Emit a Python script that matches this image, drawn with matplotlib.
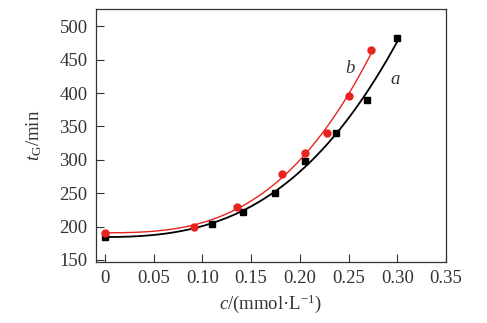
import numpy as np
import matplotlib
matplotlib.use("Agg")
import matplotlib.pyplot as plt

# Data
conc_a = [0.0, 0.110, 0.142, 0.174, 0.205, 0.237, 0.269, 0.300]
tG_a = [185, 204, 222, 250, 299, 340, 390, 483]
conc_b = [0.0, 0.091, 0.136, 0.182, 0.205, 0.228, 0.250, 0.273]
tG_b = [190, 200, 230, 279, 310, 340, 396, 464]
xticks = [0, 0.05, 0.10, 0.15, 0.20, 0.25, 0.30, 0.35]
xticklabels = ["0", "0.05", "0.10", "0.15", "0.20", "0.25", "0.30", "0.35"]
yticks = [150, 200, 250, 300, 350, 400, 450, 500]

plt.rcParams['font.family'] = ['Liberation Serif', 'DejaVu Serif']
plt.rcParams['mathtext.fontset'] = 'custom'
plt.rcParams['mathtext.rm'] = 'Liberation Serif'
plt.rcParams['mathtext.it'] = 'Liberation Serif:italic'

fig = plt.figure(figsize=(4.87, 3.23), dpi=100)
ax = fig.add_axes([0.197, 0.189, 0.719, 0.783])

def fit_curve(x, y, xmax):
    x = np.asarray(x, float); y = np.asarray(y, float)
    A = np.vstack([np.ones_like(x), x**2, x**3]).T
    coef, *_ = np.linalg.lstsq(A, y, rcond=None)
    xs = np.linspace(0, xmax, 200)
    return xs, coef[0] + coef[1]*xs**2 + coef[2]*xs**3

xs, ys = fit_curve(conc_a, tG_a, conc_a[-1])
ax.plot(xs, ys, color='black', lw=1.3, zorder=2)
xs, ys = fit_curve(conc_b, tG_b, conc_b[-1])
ax.plot(xs, ys, color='#e8231e', lw=1.0, zorder=2)
ax.plot(conc_a, tG_a, 's', color='black', ms=4.5, zorder=3)
ax.plot(conc_b, tG_b, 'o', color='#e8231e', ms=5, zorder=3)

ax.text(0.2515, 437, 'b', fontsize=13.5, style='italic', color='#333333', ha='center', va='center')
ax.text(0.2977, 420, 'a', fontsize=13.5, style='italic', color='#333333', ha='center', va='center')

ax.set_xlim(-0.0092, 0.35)
ax.set_ylim(147, 526)
ax.set_xticks(xticks)
ax.set_xticklabels(xticklabels)
ax.set_yticks(yticks)
ax.tick_params(direction='in', length=6, width=0.8, labelsize=13.5, colors='#333333',
               top=False, right=False, pad=6)
for s in ax.spines.values():
    s.set_color('#333333'); s.set_linewidth(0.9)

ax.set_xlabel(r'$\mathit{c}$/(mmol·L$^{-1}$)', fontsize=13.5, color='#333333', labelpad=4)
ax.set_ylabel(r'$\mathit{t}_{\mathrm{G}}$/min', fontsize=13.5, color='#333333', labelpad=11)

fig.savefig('out.png', dpi=100)
